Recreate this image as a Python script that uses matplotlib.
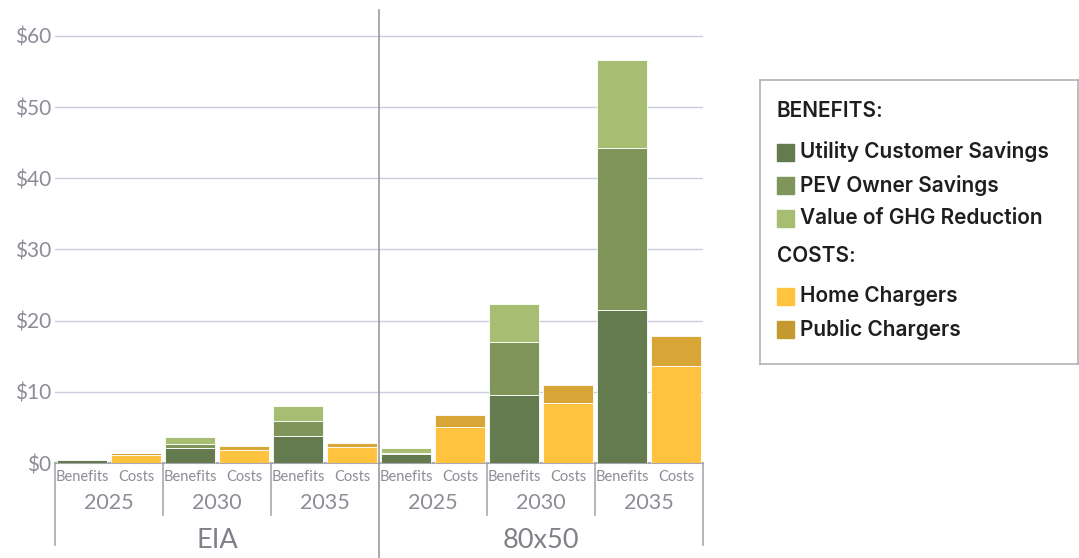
import numpy as np
import matplotlib
matplotlib.use('Agg')
import matplotlib.pyplot as plt
from matplotlib.patches import Rectangle
from matplotlib.transforms import blended_transform_factory

plt.rcParams['font.family'] = ['Lato', 'DejaVu Sans']

scenarios = ['EIA', '80x50']
years = ['2025', '2030', '2035']
kinds = ['Benefits', 'Costs']

# benefits per scenario/year, $ (billions)
utility = [0.4, 2.05, 3.8, 1.3, 9.6, 21.5]
pev_owner = [0.1, 0.65, 2.15, 0.1, 7.4, 22.8]
ghg = [0.05, 1.0, 2.05, 0.65, 5.3, 12.3]
# costs
home = [1.15, 1.85, 2.25, 5.05, 8.4, 13.6]
public = [0.25, 0.5, 0.6, 1.65, 2.6, 4.25]

benefit_names = ['Utility Customer Savings', 'PEV Owner Savings', 'Value of GHG Reduction']
cost_names = ['Home Chargers', 'Public Chargers']
benefit_colors = ['#647b4f', '#7f9559', '#a6bd72']
cost_colors = ['#ffc33f', '#d8a636']
legend_public = '#c49a30'

yticks = [0, 10, 20, 30, 40, 50, 60]

fig = plt.figure(figsize=(10.79, 5.58), dpi=100)
ax = fig.add_axes([55 / 1079, 1 - 463 / 558, 648 / 1079, 453 / 558])

n = len(utility)
xb = np.arange(n) * 2
xc = xb + 1
w = 0.93

bottom = np.zeros(n)
for vals, col in zip([utility, pev_owner, ghg], benefit_colors):
    ax.bar(xb, vals, w, bottom=bottom, color=col, edgecolor='white', linewidth=0.6, zorder=3)
    bottom += np.array(vals)
bottom = np.zeros(n)
for vals, col in zip([home, public], cost_colors):
    ax.bar(xc, vals, w, bottom=bottom, color=col, edgecolor='white', linewidth=0.6, zorder=3)
    bottom += np.array(vals)

ax.set_xlim(-0.5, 2 * n - 0.5)
ax.set_ylim(0, 63.65)
ax.set_yticks(yticks)
ax.set_yticklabels(['$%d' % v for v in yticks], fontsize=15, color='#8c8c96')
ax.yaxis.grid(True, color='#c8cde0', linewidth=1.0, zorder=0)
ax.tick_params(axis='y', length=0, pad=3)
ax.set_xticks([])
for s in ['top', 'right', 'left']:
    ax.spines[s].set_visible(False)
ax.spines['bottom'].set_color('#a8a8b0')
ax.spines['bottom'].set_linewidth(1.5)

# multi-level category axis
tr = blended_transform_factory(ax.transData, ax.transAxes)
lab_col = '#8c8c96'
line_col = '#a8a8b0'
for i in range(n):
    ax.text(xb[i], -0.031, kinds[0], transform=tr, ha='center', va='center', fontsize=10.5, color=lab_col)
    ax.text(xc[i], -0.031, kinds[1], transform=tr, ha='center', va='center', fontsize=10.5, color=lab_col)
    ax.text(xb[i] + 0.5, -0.088, years[i % 3], transform=tr, ha='center', va='center', fontsize=15.5,
            color=lab_col)
for i in range(1, n):
    if i % 3 != 0:
        ax.plot([2 * i - 0.5] * 2, [0, -0.115], transform=tr, color=line_col, lw=1.2, clip_on=False)
for j, sc in enumerate(scenarios):
    ax.text(6 * j + 2.5, -0.172, sc, transform=tr, ha='center', va='center', fontsize=19.5, color='#808088')
ax.plot([-0.5, -0.5], [0, -0.181], transform=tr, color=line_col, lw=1.2, clip_on=False)
ax.plot([2 * n - 0.5] * 2, [0, -0.181], transform=tr, color=line_col, lw=1.2, clip_on=False)
ax.plot([5.5, 5.5], [1.0, -0.215], transform=tr, color='#9a9aa2', lw=1.2, clip_on=False, zorder=4)

# legend box
lax = fig.add_axes([760 / 1079, 1 - 364 / 558, 318 / 1079, 284 / 558])
lax.set_xlim(0, 318)
lax.set_ylim(284, 0)
lax.set_xticks([])
lax.set_yticks([])
for s in lax.spines.values():
    s.set_color('#b0b0b8')
    s.set_linewidth(1.2)

lfont = dict(family=['Inter', 'DejaVu Sans'], fontsize=15, color='#1e1e1e', va='center', fontweight='semibold')
lax.text(17, 31, 'BENEFITS:', **lfont)
rows_b = [72, 105, 138]
for name, col, yy in zip(benefit_names, benefit_colors, rows_b):
    lax.add_patch(Rectangle((17, yy - 8), 17, 17, color=col))
    lax.text(40, yy, name, **lfont)
lax.text(17, 176, 'COSTS:', **lfont)
rows_c = [216, 249]
for name, col, yy in zip(cost_names, [cost_colors[0], legend_public], rows_c):
    lax.add_patch(Rectangle((17, yy - 8), 17, 17, color=col))
    lax.text(40, yy, name, **lfont)

fig.savefig('out.png', dpi=100)
